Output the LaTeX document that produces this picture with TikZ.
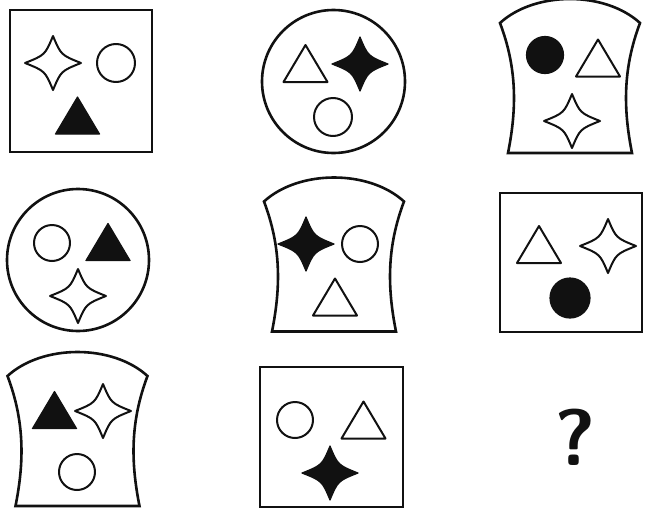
\documentclass[tikz,border=0pt]{standalone}
\usepackage{tikz}
\usepackage{xcolor}
\definecolor{ink}{HTML}{111111}

\begin{document}
\begin{tikzpicture}[
    x=1pt, y=-1pt,
    frame/.style={draw=ink, line width=2.6pt},
    open/.style={draw=ink, line width=2pt, line join=round},
    solid/.style={draw=ink, fill=ink, line width=1.2pt, line join=round},
    star4/.pic={\path[pic actions] (0,-27) .. controls (8,-8) .. (28,0)
        .. controls (8,8) .. (0,27) .. controls (-8,8) .. (-28,0)
        .. controls (-8,-8) .. cycle;},
    tri/.pic={\path[pic actions] (-22,18) -- (22,18) -- (0,-19) -- cycle;},
    barrel/.pic={\path[pic actions] (-70,-65) .. controls (-35,-97) and (35,-97) .. (70,-65)
        .. controls (53,-20) and (53,20) .. (62,65) -- (-62,65)
        .. controls (-53,20) and (-53,-20) .. cycle;}
  ]
    \useasboundingbox (0,0) rectangle (645,509);

    % row 1
    \draw[frame] (10,10) rectangle (152,152);
    \pic[open] at (53,63) {star4};
    \draw[open] (116,63) circle (19);
    \pic[solid] at (77.5,116) {tri};

    \draw[frame] (333.5,81.5) circle (71.5);
    \pic[open] at (305.5,64) {tri};
    \pic[solid] at (360,64) {star4};
    \draw[open] (333,117) circle (19);

    \pic[frame] at (570,88) {barrel};
    \draw[solid] (545,55) circle (18.5);
    \pic[open] at (598,58.5) {tri};
    \pic[open] at (572,121) {star4};

    % row 2
    \draw[frame] (78,260) circle (71);
    \draw[open] (52,243) circle (18);
    \pic[solid] at (108,242.5) {tri};
    \pic[open] at (78,296) {star4};

    \pic[frame] at (334,266.5) {barrel};
    \pic[solid] at (306,244) {star4};
    \draw[open] (360,244) circle (18);
    \pic[open] at (335,297.5) {tri};

    \draw[frame] (500,193) rectangle (642,332);
    \pic[open] at (539,245) {tri};
    \pic[open] at (608,246) {star4};
    \draw[solid] (570,298) circle (20);

    % row 3
    \pic[frame] at (77.5,441) {barrel};
    \pic[solid] at (54.5,410.5) {tri};
    \pic[open] at (103,411) {star4};
    \draw[open] (77,472) circle (18);

    \draw[frame] (260,367) rectangle (403,507);
    \draw[open] (295,420) circle (18);
    \pic[open] at (363.5,420.5) {tri};
    \pic[solid] at (330,473) {star4};

    \node[text=ink, font=\fontsize{80}{80}\selectfont\sffamily\bfseries] (ask) at (575,437) {?};
  \end{tikzpicture}
\end{document}
